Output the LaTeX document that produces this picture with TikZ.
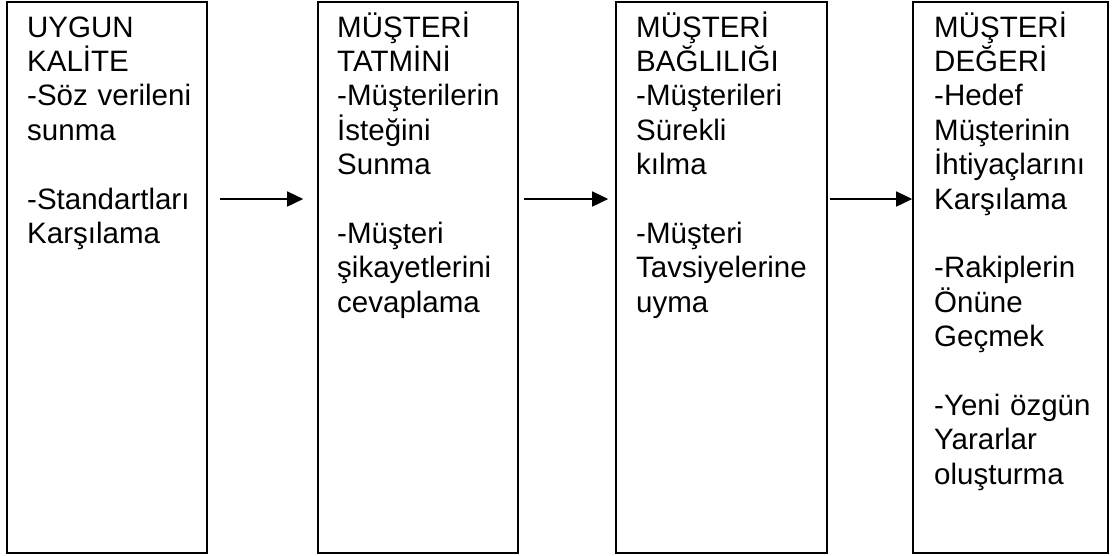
\documentclass[tikz,border=0pt]{standalone}
\usepackage{fontspec}
\setmainfont{Liberation Sans}
\usetikzlibrary{arrows.meta}

\tikzset{
  stage/.style={draw, line width=1.6pt, inner sep=0pt, minimum height=551pt},
  stagetext/.style={anchor=base west, inner sep=0pt, align=left, text width=185pt,
    font=\fontsize{29.5}{34.4}\selectfont},
  flow/.style={-{Triangle[length=16pt,width=15pt]}, line width=1.5pt}
}

\begin{document}
\begin{tikzpicture}[x=1pt, y=-1pt]
        \useasboundingbox (0,0) rectangle (1113,555);

        % Stages
        \node[stage, minimum width=200pt] (kalite) at (107, 277.5) {};
        \node[stage, minimum width=200pt] (tatmin) at (418, 277.5) {};
        \node[stage, minimum width=211pt] (baglilik) at (721.5, 277.5) {};
        \node[stage, minimum width=195pt] (deger) at (1010.5, 277.5) {};

        % Stage texts
        \node[stagetext] (kalitetext) at (27, 37) {UYGUN\\ KALİTE\\ -Söz verileni\\ sunma\\[34.4pt]
          -Standartları\\ Karşılama};
        \node[stagetext] (tatmintext) at (337, 37) {MÜŞTERİ\\ TATMİNİ\\ -Müşterilerin\\ İsteğini\\ Sunma\\[34.4pt]
          -Müşteri\\ şikayetlerini\\ cevaplama};
        \node[stagetext] (baglilikatext) at (636, 37) {MÜŞTERİ\\ BAĞLILIĞI\\ -Müşterileri\\ Sürekli\\ kılma\\[34.4pt]
          -Müşteri\\ Tavsiyelerine\\ uyma};
        \node[stagetext] (degertext) at (934, 37) {MÜŞTERİ\\ DEĞERİ\\ -Hedef\\ Müşterinin\\ İhtiyaçlarını\\ Karşılama\\[34.4pt]
          -Rakiplerin\\ Önüne\\ Geçmek\\[34.4pt]
          -Yeni özgün\\ Yararlar\\ oluşturma};

        % Flow between stages
        \coordinate (row) at (0, 199);
        \draw[flow, shorten <=12pt, shorten >=14pt] (kalite.east |- row) -- (tatmin.west |- row);
        \draw[flow, shorten <=5pt, shorten >=7pt] (tatmin.east |- row) -- (baglilik.west |- row);
        \draw[flow, shorten <=2pt] (baglilik.east |- row) -- (deger.west |- row);
\end{tikzpicture}
\end{document}
